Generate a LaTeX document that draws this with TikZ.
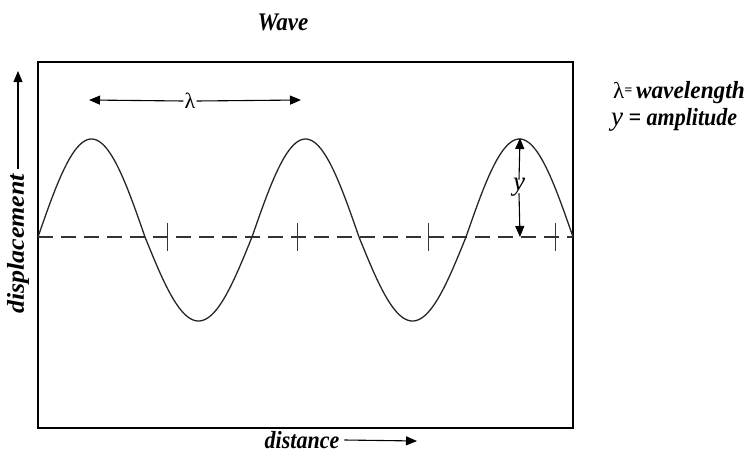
\documentclass[tikz,border=0pt]{standalone}
\usepackage{fontspec}
\setmainfont{Liberation Serif}
\usetikzlibrary{arrows.meta}
\begin{document}
\begin{tikzpicture}[x=1pt,y=-1pt,
  lbl/.style={font=\fontsize{22}{24}\selectfont\bfseries\itshape, inner sep=0pt},
  arr/.style={line width=1.1pt,-{Triangle[length=11pt,width=9pt]}},
  frame/.style={line width=1.6pt},
  wave/.style={line width=1.3pt, black!85},
  axisline/.style={line width=1.1pt, black!80, dash pattern=on 15pt off 8pt},
  tick/.style={line width=0.9pt, black!80}]
\useasboundingbox (0,0) rectangle (749,455);
% frame
\draw[frame] (38,62) rectangle (573,428);
% baseline
\coordinate (b0) at (38,237);
\coordinate (b1) at (573,237);
\draw[axisline] (b0) -- (b1);
% ticks
\foreach \t in {167,297,428,555}{
  \draw[tick] (\t,223) -- (\t,251);
}
% wave
\draw[wave] plot[domain=38:573, samples=300, smooth]
  (\x,{237-(sin((\x-38)/214*360)>0 ? 98 : 84)*sin((\x-38)/214*360)});
% title
\node[lbl] (title) at (283,22) {\scalebox{1.05}[1.15]{Wave}};
% lambda arrow
\node[inner sep=1pt, font=\fontsize{22}{22}\selectfont] (lam) at (190,101) {λ};
\coordinate (lamL) at (89,100);
\coordinate (lamR) at (301,100);
\draw[arr] (lam.west) -- (lamL);
\draw[arr] (lam.east) -- (lamR);
% amplitude arrow
\node[inner sep=1pt, font=\fontsize{27}{28}\selectfont\itshape] (yl) at (519,187) {y};
\coordinate (ytop) at (520,138);
\coordinate (ybot) at (520,237);
\draw[arr] ([yshift=-3pt]yl.north) -- (ytop);
\draw[arr] ([yshift=4pt]yl.south) -- (ybot);
% legend
\node[lbl, anchor=west] (leg1) at (613,93) {{\mdseries\upshape\fontsize{23}{24}\selectfont λ}\raisebox{4pt}{\fontsize{14}{16}\selectfont=}\,\scalebox{1.06}[1.12]{wavelength}};
\node[lbl, anchor=west] (leg2) at (611,120) {{\mdseries\fontsize{27}{28}\selectfont y} \scalebox{1}[1.12]{= amplitude}};
% distance
\node[lbl] (dist) at (302,440) {\scalebox{1}[1.12]{distance}};
\coordinate (distEnd) at (417,441);
\draw[arr] ([xshift=5pt]dist.east) -- (distEnd);
% displacement
\node[lbl, rotate=90] (disp) at (18,244) {\scalebox{1.18}[1.1]{displacement}};
\coordinate (dispEnd) at (18,71);
\draw[arr] ([yshift=5pt]disp.east) -- (dispEnd);
\end{tikzpicture}
\end{document}
